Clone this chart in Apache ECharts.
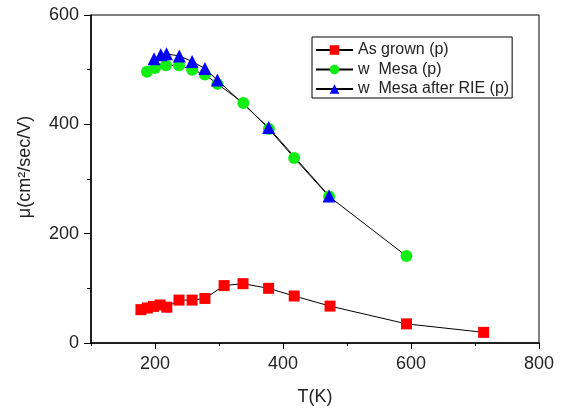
<!DOCTYPE html>
<html>
<head>
<meta charset="utf-8">
<script src="https://cdn.jsdelivr.net/npm/echarts@6/dist/echarts.min.js"></script>
<style>
  html, body { margin: 0; padding: 0; background: #fff; }
  #chart { width: 562px; height: 411px; }
</style>
</head>
<body>
<div id="chart"></div>
<script>
// Hall mobility vs temperature for three sample treatments
const seriesNames = ['As grown (p)', 'w  Mesa (p)', 'w  Mesa after RIE (p)'];

const asGrownT  = [178, 188, 197.5, 208, 218.5, 237.5, 258, 278, 308, 337.5, 377.5, 417.5, 473.5, 593, 713.5];
const asGrownMu = [61, 64, 67, 69.5, 65.5, 78.5, 78.5, 81.5, 105, 108.5, 100, 86, 67.5, 35, 19.5];

const mesaT  = [187.5, 200, 217, 237.5, 258, 278, 297.5, 338, 378, 417.5, 472, 593];
const mesaMu = [496, 503, 508, 508, 500, 491, 474, 439, 391.5, 338.5, 268, 159];

const rieT  = [198.5, 209, 218, 238, 258, 278, 297.5, 377.5, 472];
const rieMu = [520, 527.5, 529, 525, 515, 502, 481, 394, 269];

const xMajorTicks = [200, 400, 600, 800];
const yMajorTicks = [0, 200, 400, 600];

const pairs = (xs, ys) => xs.map((x, i) => [x, ys[i]]);

const font = 'Liberation Sans, Arial, sans-serif';
const chart = echarts.init(document.getElementById('chart'));

const lineSeries = (name, data, symbol, size, color) => ({
  name, type: 'line', data, symbol, symbolSize: size,
  xAxisIndex: 0, yAxisIndex: 0,
  lineStyle: { color: '#000', width: 1 },
  itemStyle: { color, borderWidth: 0 },
  emphasis: { disabled: true },
  animation: false
});

chart.setOption({
  animation: false,
  backgroundColor: '#fff',
  grid: {
    left: 91, right: 23, top: 15, bottom: 65,
    show: true, borderColor: '#000', borderWidth: 1, backgroundColor: 'transparent'
  },
  legend: {
    left: 312, top: 37,
    orient: 'vertical',
    data: seriesNames,
    itemWidth: 37, itemHeight: 12, itemGap: 3.5,
    padding: [5, 3, 1, 3],
    borderColor: '#000', borderWidth: 1,
    textStyle: { fontFamily: font, fontSize: 16, color: '#222', lineHeight: 16 },
    selectedMode: false
  },
  xAxis: [{
    type: 'value', min: 100, max: 800, interval: 100,
    name: 'T(K)', nameLocation: 'middle', nameGap: 45,
    nameTextStyle: { fontFamily: font, fontSize: 18, color: '#222' },
    axisLine: { show: true, lineStyle: { color: '#000', width: 1.5 } },
    axisTick: { show: true, length: 3, lineStyle: { color: '#000', width: 1 } },
    axisLabel: { customValues: xMajorTicks, margin: 12, fontFamily: font, fontSize: 18, color: '#222' },
    splitLine: { show: false }
  }, {
    type: 'value', min: 100, max: 800, position: 'bottom', gridIndex: 0,
    axisLine: { show: false },
    axisTick: { show: true, length: 6, customValues: xMajorTicks, lineStyle: { color: '#000', width: 1 } },
    axisLabel: { show: false },
    splitLine: { show: false }
  }],
  yAxis: [{
    type: 'value', min: 0, max: 600, interval: 100,
    name: 'μ(cm²/sec/V)', nameLocation: 'middle', nameGap: 57,
    nameTextStyle: { fontFamily: font, fontSize: 18, color: '#222', padding: [0, 0, 0, 24] },
    axisLine: { show: true, lineStyle: { color: '#000', width: 1.5 } },
    axisTick: { show: true, length: 4, lineStyle: { color: '#000', width: 1 } },
    axisLabel: { customValues: yMajorTicks, margin: 12, fontFamily: font, fontSize: 18, color: '#222' },
    splitLine: { show: false }
  }, {
    type: 'value', min: 0, max: 600, position: 'left', gridIndex: 0,
    axisLine: { show: false },
    axisTick: { show: true, length: 7, customValues: yMajorTicks, lineStyle: { color: '#000', width: 1 } },
    axisLabel: { show: false },
    splitLine: { show: false }
  }],
  series: [
    lineSeries(seriesNames[0], pairs(asGrownT, asGrownMu), 'rect', 11, '#ff0000'),
    lineSeries(seriesNames[1], pairs(mesaT, mesaMu), 'circle', 12, '#11ee11'),
    lineSeries(seriesNames[2], pairs(rieT, rieMu), 'triangle', 13, '#0000ff')
  ]
});
</script>
</body>
</html>
